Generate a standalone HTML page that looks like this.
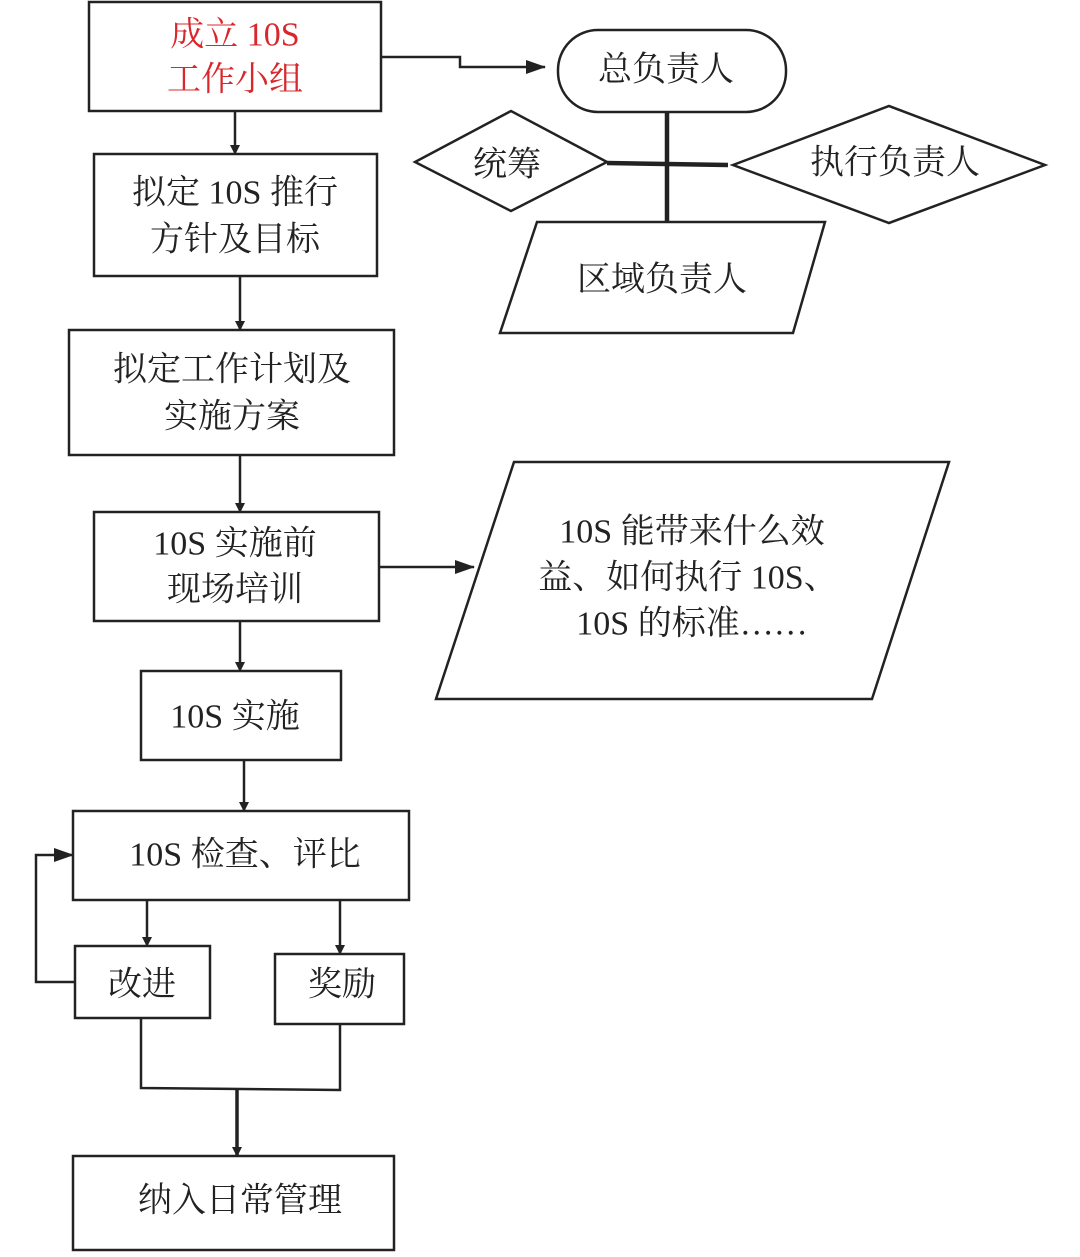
<!DOCTYPE html>
<html><head><meta charset="utf-8"><style>
html,body{margin:0;padding:0;background:#fff;}
text{font-family:"Liberation Serif","Noto Serif CJK SC",serif;font-size:34px;fill:#222;text-anchor:middle;dominant-baseline:central;}
</style></head><body>
<svg width="1080" height="1252" viewBox="0 0 1080 1252" xmlns="http://www.w3.org/2000/svg">
<defs><marker id="a" markerWidth="10" markerHeight="10" refX="9" refY="5" orient="auto" markerUnits="userSpaceOnUse"><path d="M0,0 L10,5 L0,10 Z" fill="#222"/></marker>
<marker id="b" markerWidth="20" markerHeight="14" refX="19" refY="7" orient="auto" markerUnits="userSpaceOnUse"><path d="M0,0 L20,7 L0,14 Z" fill="#222"/></marker></defs>
<g fill="none" stroke="#222" stroke-width="2.5">
<rect x="89" y="2" width="292" height="109"/>
<rect x="94" y="154" width="283" height="122"/>
<rect x="69" y="330" width="325" height="125"/>
<rect x="94" y="512" width="285" height="109"/>
<rect x="141" y="671" width="200" height="89"/>
<rect x="73" y="811" width="336" height="89"/>
<rect x="75" y="946" width="135" height="72"/>
<rect x="275" y="954" width="129" height="70"/>
<rect x="73" y="1156" width="321" height="94"/>
<rect x="558" y="30" width="228" height="82" rx="40"/>
<polygon points="415,162 511,111 607,162 511,211"/>
<polygon points="733,165 889,106 1045,165 889,223"/>
<polygon points="537,222 825,222 793,333 500,333"/>
<polygon points="514,462 949,462 872,699 436,699"/>
<polyline points="381,57 460,57 460,67 545,67" marker-end="url(#b)"/>
<line x1="235" y1="111" x2="235" y2="154" marker-end="url(#a)"/>
<line x1="240" y1="276" x2="240" y2="330" marker-end="url(#a)"/>
<line x1="240" y1="455" x2="240" y2="512" marker-end="url(#a)"/>
<line x1="240" y1="621" x2="240" y2="671" marker-end="url(#a)"/>
<line x1="244" y1="760" x2="244" y2="811" marker-end="url(#a)"/>
<line x1="379" y1="567" x2="474" y2="567" marker-end="url(#b)"/>
<line x1="147" y1="900" x2="147" y2="946" marker-end="url(#a)"/>
<line x1="340" y1="900" x2="340" y2="954" marker-end="url(#a)"/>
<polyline points="75,982 36,982 36,855 73,855" marker-end="url(#b)"/>
<polyline points="141,1018 141,1088 340,1090 340,1024"/>
<line x1="237" y1="1089" x2="237" y2="1156" stroke-width="3.5" marker-end="url(#a)"/>
<line x1="667" y1="112" x2="667" y2="222" stroke-width="4.5"/>
<line x1="607" y1="163" x2="728" y2="165" stroke-width="4.5"/>
</g>
<text x="235" y="35" style="fill:#d8282c">成立 10S</text>
<text x="235" y="80" style="fill:#d8282c">工作小组</text>
<text x="235" y="193">拟定 10S 推行</text>
<text x="235" y="240">方针及目标</text>
<text x="232" y="370">拟定工作计划及</text>
<text x="232" y="417">实施方案</text>
<text x="235" y="544">10S 实施前</text>
<text x="235" y="590">现场培训</text>
<text x="235" y="717">10S 实施</text>
<text x="245" y="855">10S 检查、评比</text>
<text x="142" y="985">改进</text>
<text x="342" y="985">奖励</text>
<text x="240" y="1201">纳入日常管理</text>
<text x="666" y="70">总负责人</text>
<text x="507" y="165">统筹</text>
<text x="895" y="163">执行负责人</text>
<text x="662" y="280">区域负责人</text>
<text x="692" y="532">10S 能带来什么效</text>
<text x="688" y="578">益、如何执行 10S、</text>
<text x="692" y="624">10S 的标准……</text>
</svg>
</body></html>
